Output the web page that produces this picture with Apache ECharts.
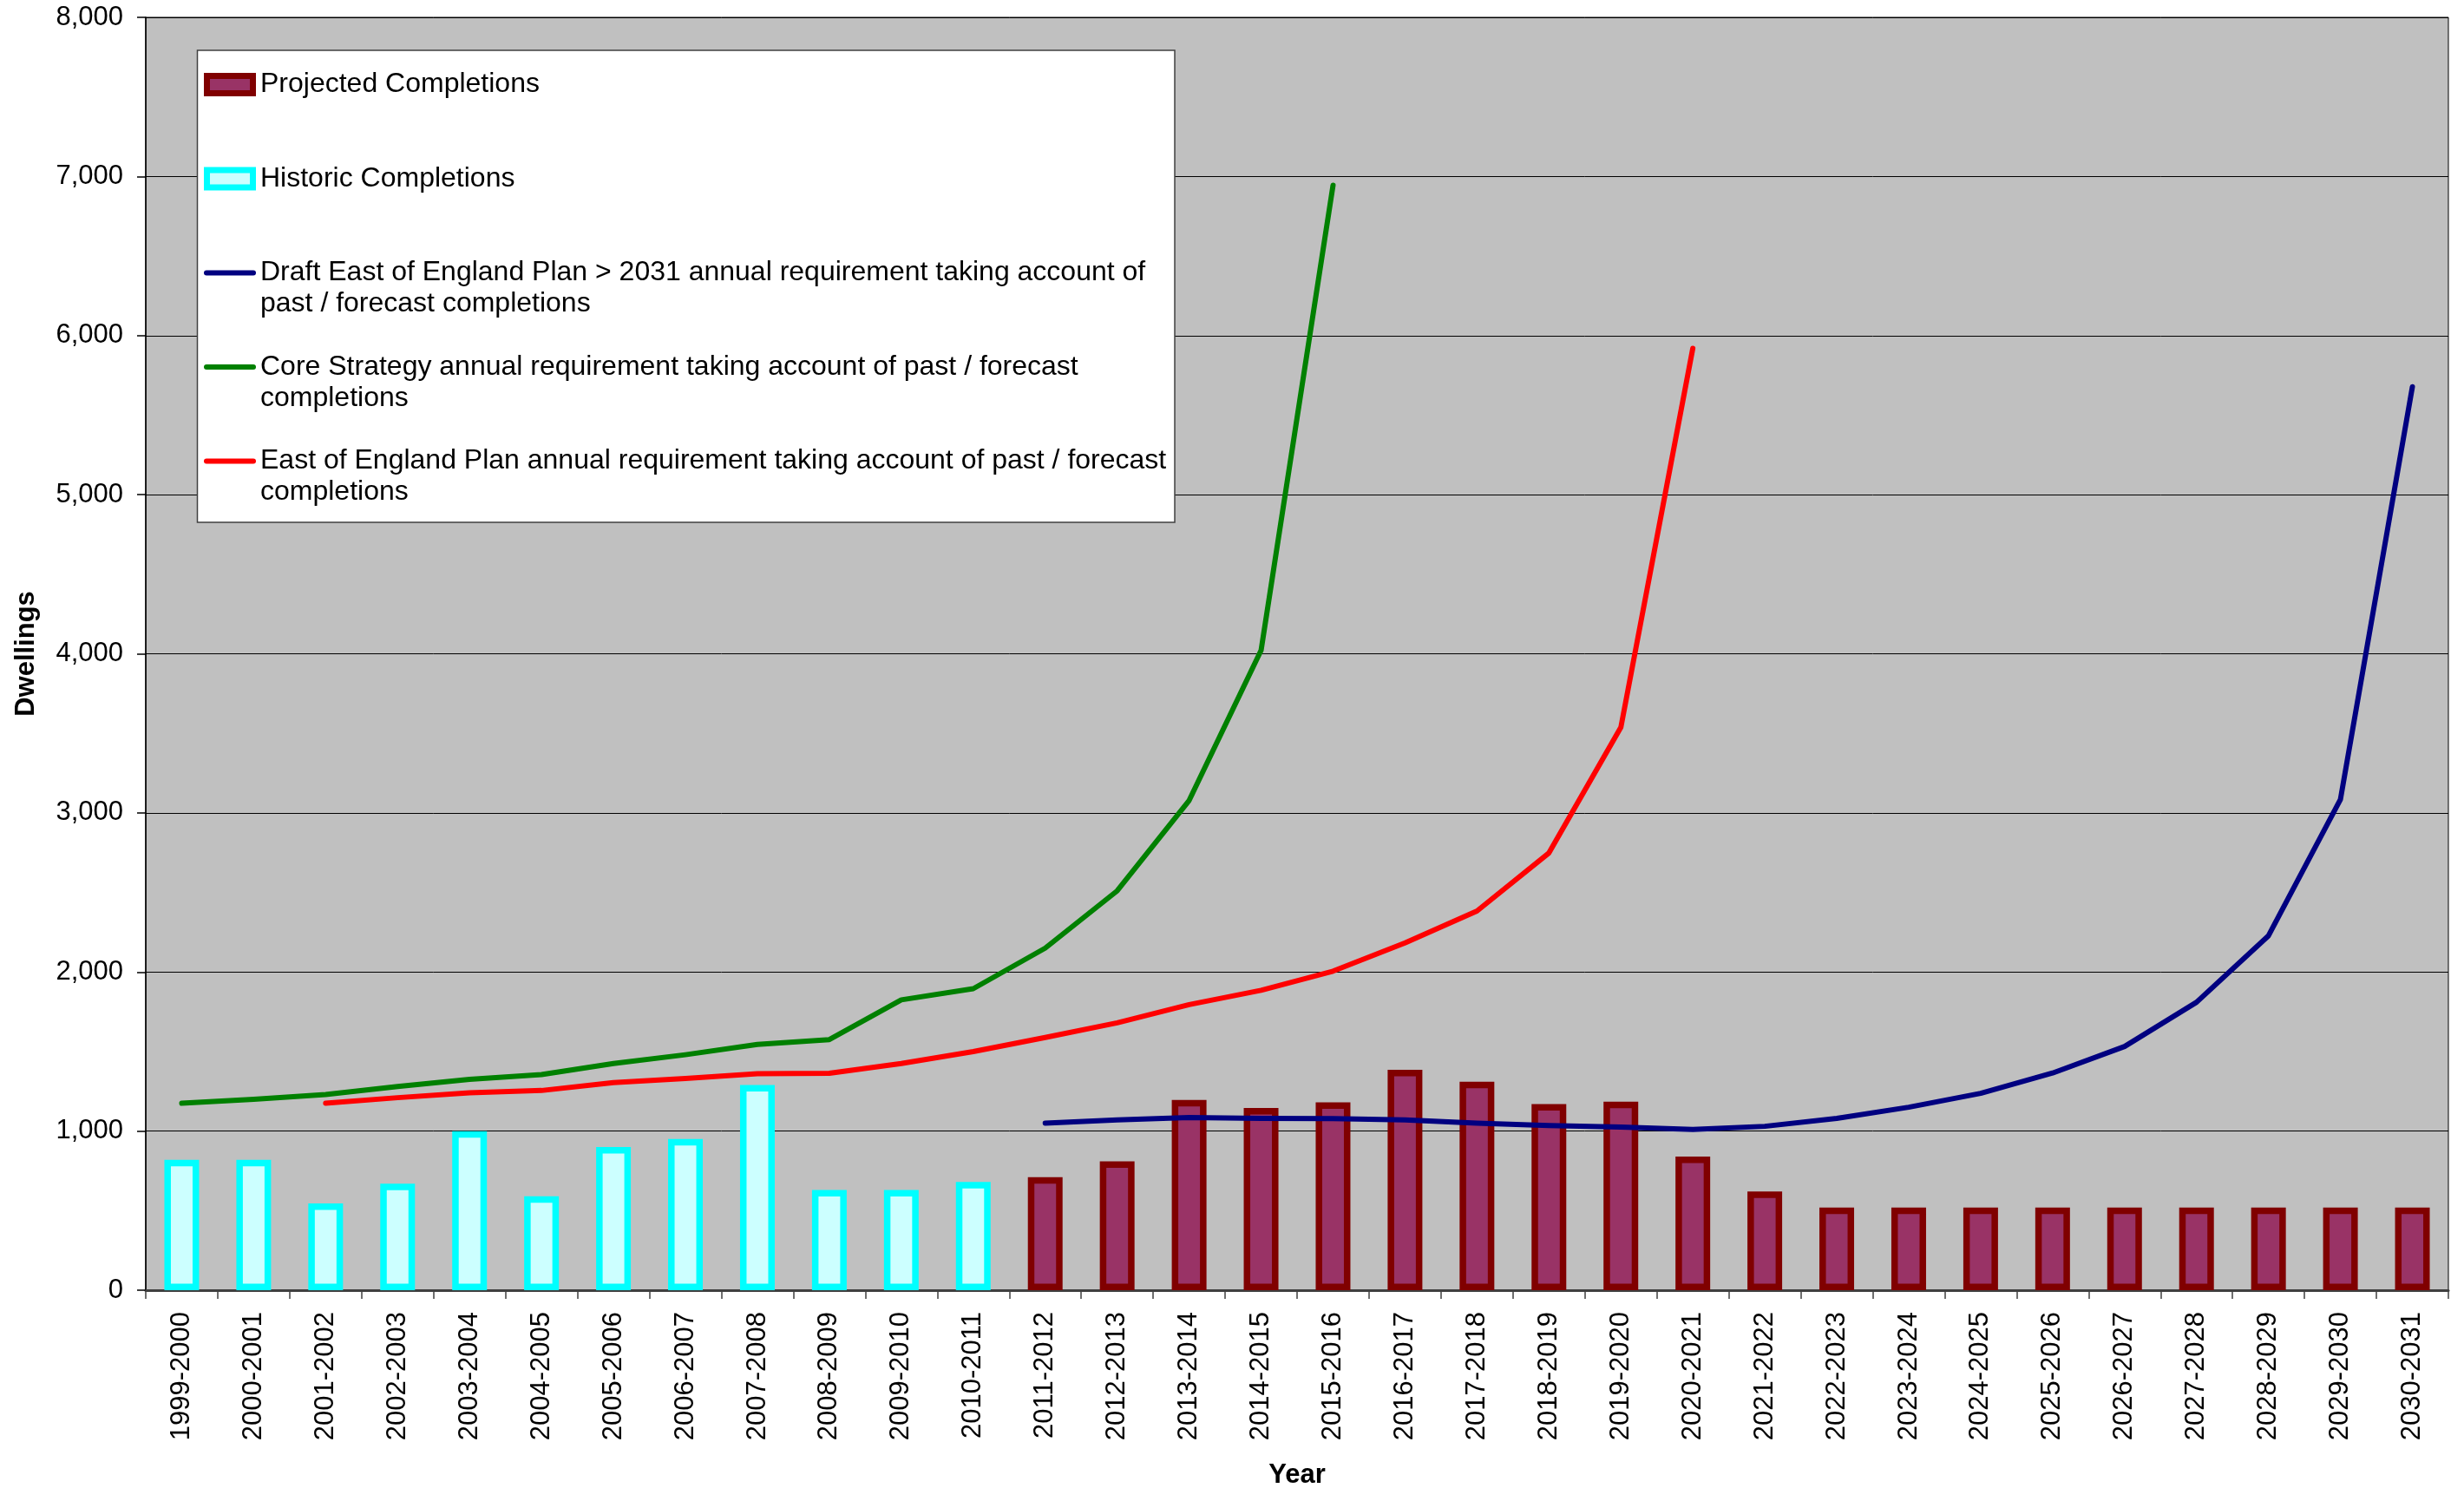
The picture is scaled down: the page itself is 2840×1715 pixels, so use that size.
<!DOCTYPE html>
<html>
<head>
<meta charset="utf-8">
<script src="https://cdn.jsdelivr.net/npm/echarts@6/dist/echarts.min.js"></script>
<style>
html,body{margin:0;padding:0;background:#ffffff;}
#chart{width:2840px;height:1715px;}
</style>
</head>
<body>
<div id="chart"></div>
<script>
// ---------- data ----------
const categories = [
  '1999-2000','2000-2001','2001-2002','2002-2003','2003-2004','2004-2005','2005-2006','2006-2007',
  '2007-2008','2008-2009','2009-2010','2010-2011','2011-2012','2012-2013','2013-2014','2014-2015',
  '2015-2016','2016-2017','2017-2018','2018-2019','2019-2020','2020-2021','2021-2022','2022-2023',
  '2023-2024','2024-2025','2025-2026','2026-2027','2027-2028','2028-2029','2029-2030','2030-2031'
];
const historic = [820,820,545,670,1000,590,900,950,1290,630,630,680,
  null,null,null,null,null,null,null,null,null,null,null,null,null,null,null,null,null,null,null,null];
const projected = [null,null,null,null,null,null,null,null,null,null,null,null,
  710,810,1195,1145,1180,1385,1310,1170,1185,840,620,520,520,520,520,520,520,520,520,520];
const coreStrategy = [1175,1200,1230,1280,1325,1355,1425,1480,1545,1575,1825,1895,2150,2510,3078,4022,6945,
  null,null,null,null,null,null,null,null,null,null,null,null,null,null,null];
const eastEngland = [null,null,1175,1210,1240,1255,1305,1330,1360,1363,1425,1500,1588,1680,1795,1885,2005,2183,2383,2748,3538,5920,
  null,null,null,null,null,null,null,null,null,null];
const draftPlan = [null,null,null,null,null,null,null,null,null,null,null,null,
  1050,1070,1085,1080,1078,1070,1050,1035,1025,1010,1030,1080,1150,1237,1365,1532,1810,2228,3085,5678];
const yTicks = [0,1000,2000,3000,4000,5000,6000,7000,8000];

const S_PROJ = 'Projected Completions';
const S_HIST = 'Historic Completions';
const S_DRAFT = 'Draft East of England Plan > 2031 annual requirement taking account of past / forecast completions';
const S_CORE = 'Core Strategy annual requirement taking account of past / forecast completions';
const S_EEP = 'East of England Plan annual requirement taking account of past / forecast completions';
const legendText = {};
legendText[S_PROJ] = ['Projected Completions'];
legendText[S_HIST] = ['Historic Completions'];
legendText[S_DRAFT] = ['Draft East of England Plan > 2031 annual requirement taking account of', 'past / forecast completions'];
legendText[S_CORE] = ['Core Strategy annual requirement taking account of past / forecast', 'completions'];
legendText[S_EEP] = ['East of England Plan annual requirement taking account of past / forecast', 'completions'];

// ---------- chart ----------
const FONT = '"Liberation Sans", Arial, Helvetica, sans-serif';
const chart = echarts.init(document.getElementById('chart'), null, {renderer: 'canvas'});
const lineIcon = 'path://M3,0L57,0A3,3,0,0,1,57,6L3,6A3,3,0,0,1,3,0Z';
const barIcon = 'path://M0,0L53,0L53,20L0,20Z';

const option = {
  animation: false,
  backgroundColor: '#ffffff',
  grid: {
    left: 168, right: 18, top: 20, bottom: 228,
    containLabel: false,
    outerBoundsMode: 'none',
    show: true, backgroundColor: '#C0C0C0', borderColor: '#000000', borderWidth: 1
  },
  graphic: [{
    type: 'rect', z: 50,
    shape: {x: 227.5, y: 58, width: 1126.5, height: 544},
    style: {fill: '#ffffff', stroke: '#404040', lineWidth: 1.5}
  }],
  legend: {
    z: 60,
    orient: 'vertical',
    left: 235, top: 43.5, padding: 0, itemGap: 0.5,
    itemWidth: 60, itemHeight: 20,
    selectedMode: false,
    data: [
      {name: S_PROJ, icon: barIcon, itemStyle: {color: '#993366', borderColor: '#800000', borderWidth: 7}},
      {name: S_HIST, icon: barIcon, itemStyle: {color: '#CCFFFF', borderColor: '#00FFFF', borderWidth: 7}},
      {name: S_DRAFT, icon: lineIcon, itemStyle: {color: '#000080', borderWidth: 0}},
      {name: S_CORE, icon: lineIcon, itemStyle: {color: '#008000', borderWidth: 0}},
      {name: S_EEP, icon: lineIcon, itemStyle: {color: '#FF0000', borderWidth: 0}}
    ],
    formatter: function (name) {
      const lines = legendText[name];
      return '\n' + lines.join('\n') + (lines.length === 1 ? '\n' : '');
    },
    textStyle: {fontFamily: FONT, fontSize: 32, color: '#000000', lineHeight: 36}
  },
  xAxis: {
    type: 'category',
    data: categories,
    boundaryGap: true,
    name: 'Year',
    nameLocation: 'middle',
    nameGap: 198,
    nameTextStyle: {fontFamily: FONT, fontSize: 31, fontWeight: 'bold', color: '#000000'},
    axisLine: {show: true, lineStyle: {color: '#404040', width: 3}},
    axisTick: {show: true, length: 10, lineStyle: {color: '#404040', width: 1.5}},
    axisLabel: {rotate: 90, margin: 25, interval: 0, fontFamily: FONT, fontSize: 31, color: '#000000'},
    splitLine: {show: false}
  },
  yAxis: {
    type: 'value',
    min: yTicks[0], max: yTicks[yTicks.length - 1], interval: yTicks[1] - yTicks[0],
    name: 'Dwellings',
    nameLocation: 'middle',
    nameGap: 122,
    nameTextStyle: {fontFamily: FONT, fontSize: 31, fontWeight: 'bold', color: '#000000'},
    axisLine: {show: true, lineStyle: {color: '#000000', width: 1.5}},
    axisTick: {show: true, length: 10, lineStyle: {color: '#000000', width: 1.5}},
    axisLabel: {
      margin: 26, fontFamily: FONT, fontSize: 31, color: '#000000',
      formatter: function (v) { return v.toLocaleString('en-GB'); }
    },
    splitLine: {show: true, lineStyle: {color: '#000000', width: 1}}
  },
  series: [
    {
      name: S_PROJ, type: 'bar', data: projected, barWidth: 40, barGap: '-100%',
      color: '#993366',
      itemStyle: {color: '#993366', borderColor: '#800000', borderWidth: 7.5}
    },
    {
      name: S_HIST, type: 'bar', data: historic, barWidth: 40, barGap: '-100%',
      color: '#CCFFFF',
      itemStyle: {color: '#CCFFFF', borderColor: '#00FFFF', borderWidth: 7.5}
    },
    {
      name: S_DRAFT, type: 'line', data: draftPlan, symbol: 'none', showSymbol: false,
      color: '#000080',
      lineStyle: {color: '#000080', width: 6, cap: 'round', join: 'round'}
    },
    {
      name: S_CORE, type: 'line', data: coreStrategy, symbol: 'none', showSymbol: false,
      color: '#008000',
      lineStyle: {color: '#008000', width: 6, cap: 'round', join: 'round'}
    },
    {
      name: S_EEP, type: 'line', data: eastEngland, symbol: 'none', showSymbol: false,
      color: '#FF0000',
      lineStyle: {color: '#FF0000', width: 6, cap: 'round', join: 'round'}
    }
  ]
};
chart.setOption(option);
</script>
</body>
</html>
